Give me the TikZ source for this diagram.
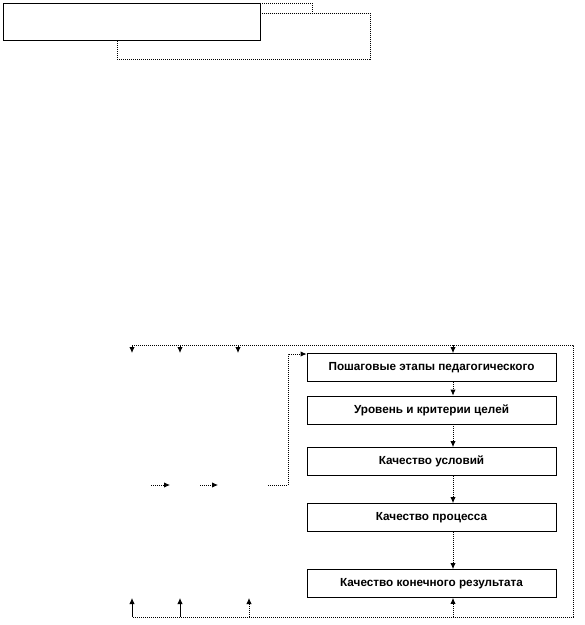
\documentclass[tikz,border=0pt]{standalone}
\usepackage{fontspec}
\setmainfont{Liberation Sans}
\usetikzlibrary{arrows.meta}
\begin{document}
\begin{tikzpicture}[x=0.75pt,y=-0.75pt,
  stagebox/.style={draw,line width=0.6pt,minimum width=249*0.75pt,minimum height=28*0.75pt,inner sep=0pt,font=\bfseries\fontsize{8.8}{10}\selectfont},
  dotline/.style={line width=0.6pt,dash pattern=on 0.75pt off 0.75pt},
  tip/.style={-{Latex[length=4.5pt,width=4pt]}},
  solidline/.style={line width=0.6pt}]
\useasboundingbox (0,0) rectangle (585,625);
% top boxes
\coordinate (t1) at (58,3);
\coordinate (t2) at (312,3);
\coordinate (t3) at (312,13);
\draw[dotline] (t1) -- (t2) -- (t3);
\node[draw,dotline,fill=white,minimum width=253*0.75pt,minimum height=46*0.75pt,inner sep=0pt,anchor=north west] (back) at (117,13) {};
\node[draw,solidline,fill=white,minimum width=257*0.75pt,minimum height=37*0.75pt,inner sep=0pt,anchor=north west] (front) at (3,3) {};
% stage boxes
\node[stagebox] (b1) at (431.5,367.5) {Пошаговые этапы педагогического};
\node[stagebox] (b2) at (431.5,410) {Уровень и критерии целей};
\node[stagebox] (b3) at (431.5,461.5) {Качество условий};
\node[stagebox] (b4) at (431.5,517.5) {Качество процесса};
\node[stagebox] (b5) at (431.5,583.5) {Качество конечного результата};
\coordinate (col) at (453,0);
% arrows between boxes
\draw[dotline,tip] (b1.south -| col) -- (b2.north -| col);
\draw[dotline,tip] (b2.south -| col) -- (b3.north -| col);
\draw[dotline,tip] (b3.south -| col) -- (b4.north -| col);
\draw[dotline,tip] (b4.south -| col) -- (b5.north -| col);
% outer loop
\coordinate (tl) at (132,345);
\coordinate (tr) at (573,345);
\coordinate (br) at (573,617);
\coordinate (bl) at (132,617);
\draw[dotline] (tl) -- (tr) -- (br) -- (bl);
\coordinate (d1) at (132,353);
\coordinate (d2) at (180,353);
\coordinate (d3) at (238,353);
\draw[solidline,tip] (tl) -- (d1);
\draw[solidline,tip] (180,345) -- (d2);
\draw[solidline,tip] (238,345) -- (d3);
\draw[solidline,tip] (tl -| col) -- (b1.north -| col);
\coordinate (u1) at (132,598);
\coordinate (u2) at (180,598);
\coordinate (u3) at (249,598);
\draw[solidline,tip] (bl) -- (u1);
\draw[solidline,tip] (180,617) -- (u2);
\draw[dotline,tip] (249,617) -- (u3);
\draw[dotline,tip] (bl -| col) -- (b5.south -| col);
% left loop to first box
\coordinate (l1) at (268,485);
\coordinate (l2) at (288,485);
\coordinate (l3) at (288,354);
\draw[dotline,tip] (l1) -- (l2) -- (l3) -- (b1.west |- l3);
% small arrows
\coordinate (s1a) at (151,485);
\coordinate (s1b) at (170,485);
\coordinate (s2a) at (200,485);
\coordinate (s2b) at (218,485);
\draw[dotline,tip] (s1a) -- (s1b);
\draw[dotline,tip] (s2a) -- (s2b);
\end{tikzpicture}
\end{document}
